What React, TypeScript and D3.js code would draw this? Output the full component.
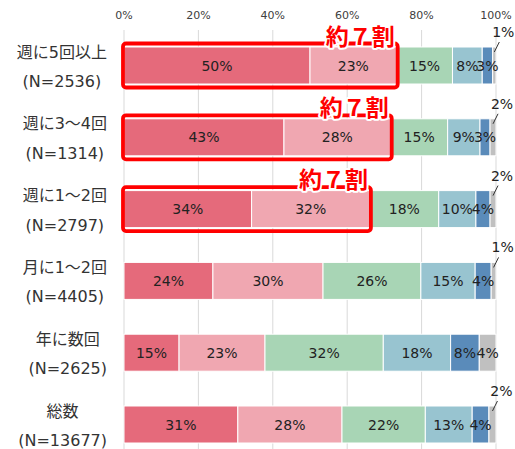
import React, { useEffect, useRef } from "react";
import * as d3 from "d3";

const categories = ["週に5回以上", "週に3～4回", "週に1～2回", "月に1～2回", "年に数回", "総数"];
const sampleSizes = ["(N=2536)", "(N=1314)", "(N=2797)", "(N=4405)", "(N=2625)", "(N=13677)"];
const seg1 = [50.0, 43.0, 34.3, 23.9, 14.8, 30.6];
const seg2 = [23.3, 28.7, 31.8, 29.6, 23.1, 28.0];
const seg3 = [15.0, 15.3, 18.5, 26.3, 31.8, 22.4];
const seg4 = [8.0, 8.7, 10.0, 14.6, 18.1, 12.6];
const seg5 = [2.8, 2.7, 3.8, 4.3, 7.7, 4.5];
const seg6 = [0.9, 1.6, 1.6, 1.3, 4.5, 1.9];
const lab1 = ["50%", "43%", "34%", "24%", "15%", "31%"];
const lab2 = ["23%", "28%", "32%", "30%", "23%", "28%"];
const lab3 = ["15%", "15%", "18%", "26%", "32%", "22%"];
const lab4 = ["8%", "9%", "10%", "15%", "18%", "13%"];
const lab5 = ["3%", "3%", "4%", "4%", "8%", "4%"];
const lab6 = ["1%", "2%", "2%", "1%", "4%", "2%"];
const ticks = [0, 20, 40, 60, 80, 100];
const tickLabels = ["0%", "20%", "40%", "60%", "80%", "100%"];
const highlighted = ["週に5回以上", "週に3～4回", "週に1～2回"];
const highlightText = "約７割";

const colors = ["#E56A7B", "#F0A7B1", "#A8D5B5", "#98C4D0", "#5A8BBA", "#C0C0C0"];

export default function App() {
  const ref = useRef<SVGSVGElement>(null);
  useEffect(() => {
    document.body.style.margin = "0";
    const svg = d3.select(ref.current!);
    svg.selectAll("*").remove();
    const W = 515, H = 449;
    const x = d3.scaleLinear().domain([0, 100]).range([124, 496]);
    const y = d3.scalePoint<string>().domain(categories).range([65.5, 424.5]);
    const barH = 37;
    const font = "'DejaVu Sans', 'Noto Sans CJK JP', sans-serif";

    // gridlines
    svg.append("g").selectAll("line").data(ticks).join("line")
      .attr("x1", d => x(d)).attr("x2", d => x(d))
      .attr("y1", 30).attr("y2", H)
      .attr("stroke", "#D9D9D9").attr("stroke-width", 1);
    svg.append("g").selectAll("text").data(ticks).join("text")
      .attr("x", d => x(d)).attr("y", 19)
      .attr("text-anchor", "middle")
      .attr("font-family", font).attr("font-size", 11).attr("fill", "#404040")
      .text((d, i) => tickLabels[i]);

    const segs = [seg1, seg2, seg3, seg4, seg5, seg6];
    const labs = [lab1, lab2, lab3, lab4, lab5, lab6];
    const gBars = svg.append("g");
    const gLabels = svg.append("g");
    categories.forEach((c, ri) => {
      const cy = y(c)!;
      const top = cy - barH / 2;
      let cum = 0;
      segs.forEach((s, si) => {
        const v = s[ri];
        const x0 = x(cum), x1 = x(cum + v);
        cum += v;
        gBars.append("rect")
          .attr("x", x0).attr("y", top)
          .attr("width", x1 - x0).attr("height", barH)
          .attr("fill", colors[si])
          .attr("stroke", "#fff").attr("stroke-width", 1);
        const cx = (x0 + x1) / 2;
        if (v < 2.5) {
          gLabels.append("line")
            .attr("x1", cx).attr("y1", top + 5)
            .attr("x2", cx + 5).attr("y2", top - 5)
            .attr("stroke", "#333").attr("stroke-width", 1);
          gLabels.append("text")
            .attr("x", cx + 9).attr("y", top - 10)
            .attr("text-anchor", "middle")
            .attr("font-family", font).attr("font-size", 14).attr("fill", "#222")
            .text(labs[si][ri]);
        } else {
          gLabels.append("text")
            .attr("x", cx).attr("y", cy + 5)
            .attr("text-anchor", "middle")
            .attr("font-family", font).attr("font-size", 14).attr("fill", "#222")
            .text(labs[si][ri]);
        }
      });
    });

    // category labels (block right-aligned, lines centred in block)
    const gCat = svg.append("g");
    categories.forEach((c, ri) => {
      const cy = y(c)!;
      const t1 = gCat.append("text").attr("y", cy - 8)
        .attr("font-family", font).attr("font-size", 16).attr("fill", "#333")
        .attr("text-anchor", "middle").text(c);
      const t2 = gCat.append("text").attr("y", cy + 21.5)
        .attr("font-family", font).attr("font-size", 16).attr("fill", "#333")
        .attr("text-anchor", "middle").text(sampleSizes[ri]);
      const w = Math.max((t1.node() as SVGTextElement).getComputedTextLength(),
        (t2.node() as SVGTextElement).getComputedTextLength());
      const mid = 107 - w / 2;
      t1.attr("x", mid);
      t2.attr("x", mid);
    });

    // highlight boxes
    const gHi = svg.append("g");
    highlighted.forEach(c => {
      const ri = categories.indexOf(c);
      const cy = y(c)!;
      const top = cy - barH / 2;
      const right = x(seg1[ri] + seg2[ri]) + 1;
      const bx = x(0) - 1;
      const by = top - 3.5;
      gHi.append("rect")
        .attr("x", bx).attr("y", by)
        .attr("width", right - bx).attr("height", barH + 7)
        .attr("rx", 3).attr("fill", "none")
        .attr("stroke", "#FF0000").attr("stroke-width", 3.8);
      gHi.append("text")
        .attr("x", right - 3).attr("y", by + 1)
        .attr("text-anchor", "end")
        .attr("font-family", "'Noto Sans CJK JP', sans-serif")
        .attr("font-weight", "bold").attr("font-size", 23)
        .attr("fill", "#FF0000")
        .attr("stroke", "#fff").attr("stroke-width", 4)
        .attr("stroke-linejoin", "round")
        .attr("paint-order", "stroke")
        .text(highlightText);
    });
  }, []);
  return <svg ref={ref} width={515} height={449} style={{ display: "block", background: "#fff" }} />;
}
